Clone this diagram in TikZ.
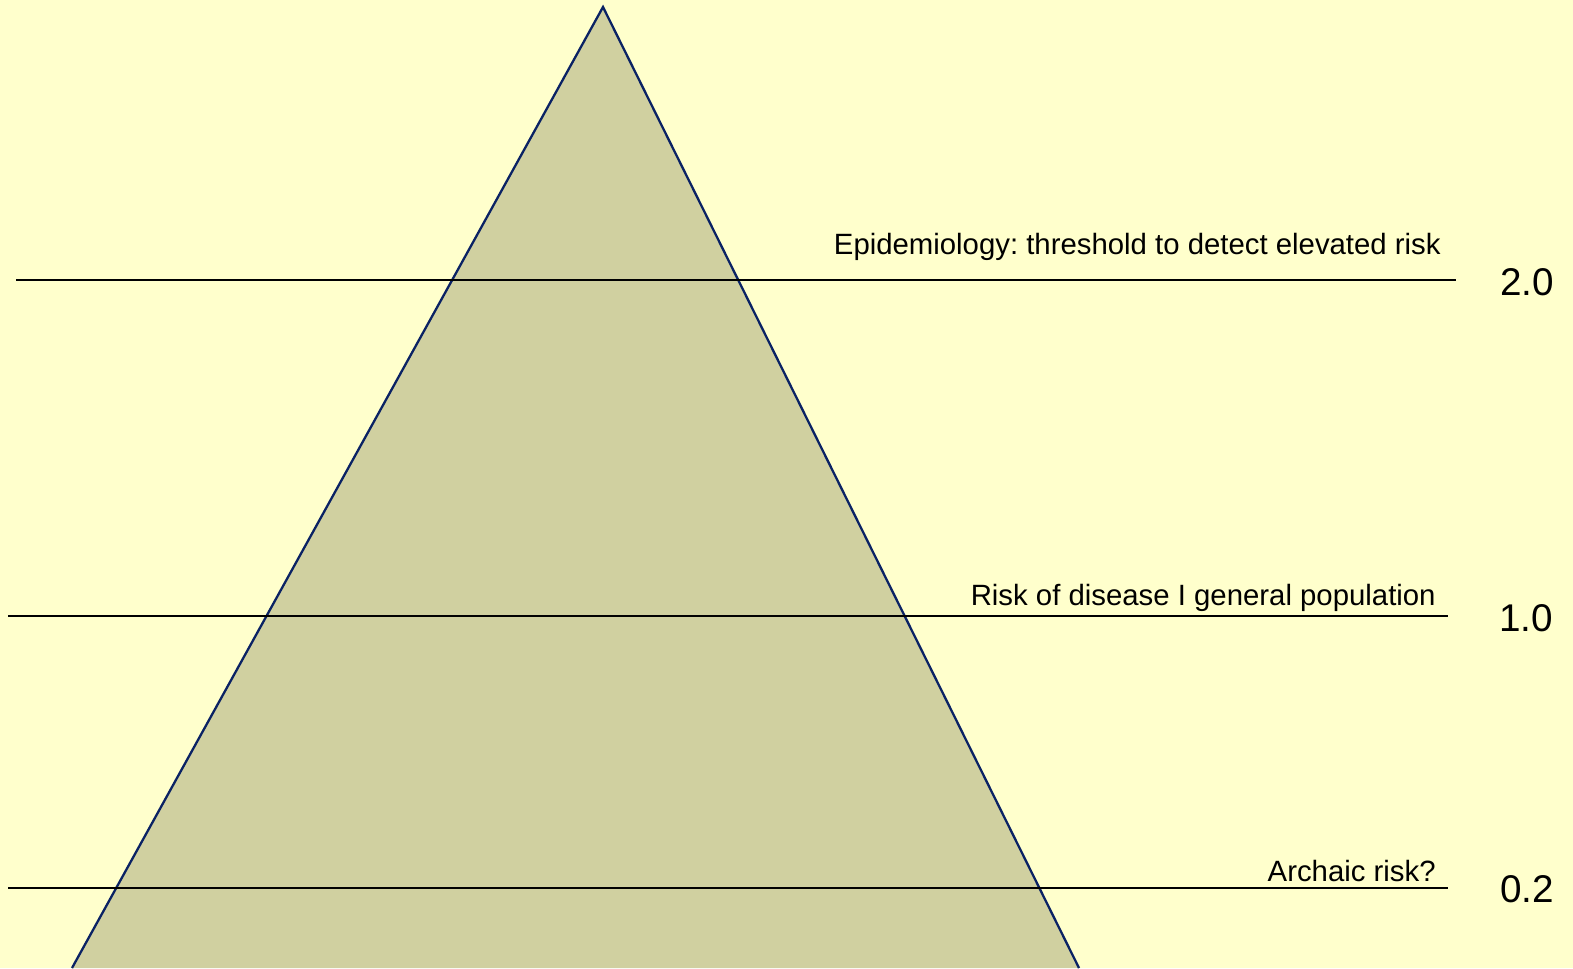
\documentclass[tikz,border=0pt]{standalone}
\usepackage{fontspec}
\setmainfont{Liberation Sans}
\frenchspacing
\usetikzlibrary{calc}
\definecolor{riskbg}{RGB}{255, 255, 204}
\definecolor{riskfill}{RGB}{208, 208, 160}
\definecolor{risknavy}{RGB}{10, 34, 100}

\begin{document}
\begin{tikzpicture}[x=0.02cm, y=-0.02cm,
    level/.style={black, line width=1.2pt},
    lvllabel/.style={font=\fontsize{16.7}{19}\selectfont, inner sep=0pt},
    lvlvalue/.style={font=\fontsize{22}{26}\selectfont, inner sep=0pt}]

% === Fondo ===
\fill[riskbg] (0,0) rectangle (1573,968);
\useasboundingbox (0,0) rectangle (1573,968);
\clip (0,0) rectangle (1573,968);

% === Piramide ===
\coordinate (apex) at (603, 7);
\coordinate (baseL) at (72, 968);
\coordinate (baseR) at (1079, 968);
\fill[riskfill] (apex) -- (baseL) -- (baseR) -- cycle;
\draw[risknavy, line width=1.3pt] (baseL) -- (apex) -- (baseR);

% === Niveles de riesgo ===
\coordinate (l1a) at (16, 280);
\coordinate (l1b) at (1456, 280);
\coordinate (l2a) at (8, 616);
\coordinate (l2b) at (1448, 616);
\coordinate (l3a) at (8, 888);
\coordinate (l3b) at (1448, 888);

\draw[level] (l1a) -- (l1b);
\draw[level] (l2a) -- (l2b);
\draw[level] (l3a) -- (l3b);

% Etiquetas
\node[lvllabel, anchor=base east] (epi) at (1441, 254) {Epidemiology: threshold to detect elevated risk};
\node[lvllabel, anchor=base east] (gen) at (1436, 605) {Risk of disease I general population};
\node[lvllabel, anchor=base east] (arch) at (1436, 881) {Archaic risk?};

% Valores
\node[lvlvalue] (v20) at (1527, 282) {2.0};
\node[lvlvalue] (v10) at (1526, 618) {1.0};
\node[lvlvalue] (v02) at (1527, 889) {0.2};

\end{tikzpicture}
\end{document}
